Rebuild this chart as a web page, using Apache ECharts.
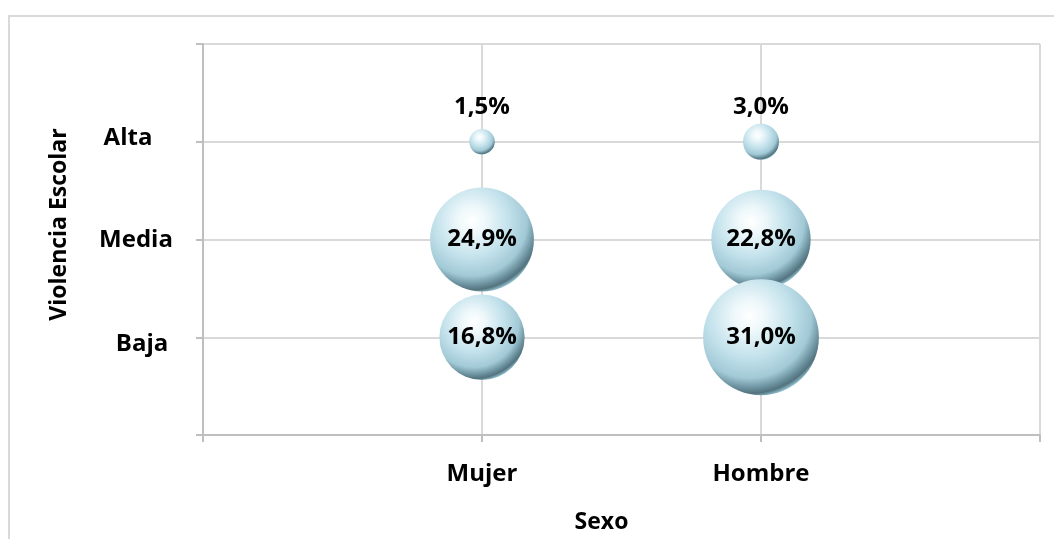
<!DOCTYPE html>
<html>
<head>
<meta charset="utf-8">
<script src="https://cdn.jsdelivr.net/npm/echarts@6/dist/echarts.min.js"></script>
<style>
  html, body { margin: 0; padding: 0; background: #ffffff; }
  #chart { width: 1054px; height: 539px; }
</style>
</head>
<body>
<div id="chart"></div>
<script>
// ---- Data ----
const sexCategories = ['Mujer', 'Hombre'];          // x positions 1, 2
const levelCategories = ['Baja', 'Media', 'Alta'];  // y positions 1, 2, 3
const mujerValues = [16.8, 24.9, 1.5];   // Baja, Media, Alta
const hombreValues = [31.0, 22.8, 3.0];  // Baja, Media, Alta
const xAxisTitle = 'Sexo';
const yAxisTitle = 'Violencia Escolar';

// ---- Build bubble data (draw Alta first, Baja last) ----
const valuesBySex = [mujerValues, hombreValues];
const bubbleData = [];
for (let li = levelCategories.length - 1; li >= 0; li--) {
  for (let si = 0; si < sexCategories.length; si++) {
    const v = valuesBySex[si][li];
    const item = { value: [si + 1, li + 1, v] };
    if (v < 5) {
      item.label = { offset: [0, -35] };
    }
    bubbleData.push(item);
  }
}

const fontFamily = '"Open Sans", "Noto Sans", sans-serif';
const textColor = '#000';
const labelRich = {
  Alta:  { fontSize: 24, fontWeight: 'bold', color: textColor, fontFamily, padding: [0, 16, 8, 0] },
  Media: { fontSize: 24, fontWeight: 'bold', color: textColor, fontFamily, padding: [2, 0, 0, 0] },
  Baja:  { fontSize: 24, fontWeight: 'bold', color: textColor, fontFamily, padding: [14, 0, 0, 12] }
};

const sphere = {
  type: 'radial', x: 0.4, y: 0.32, r: 0.74,
  colorStops: [
    { offset: 0, color: '#ffffff' },
    { offset: 0.18, color: '#eef8fb' },
    { offset: 0.5, color: '#c0e0ea' },
    { offset: 0.72, color: '#a2c9d6' },
    { offset: 0.84, color: '#6a909d' },
    { offset: 0.9, color: '#53737e' },
    { offset: 0.96, color: '#9fd2e0' },
    { offset: 1, color: '#cdf1fa' }
  ]
};

const chart = echarts.init(document.getElementById('chart'));
chart.setOption({
  backgroundColor: '#ffffff',
  animation: false,
  graphic: [{
    type: 'rect', silent: true, z: -10,
    shape: { x: 9, y: 16, width: 1200, height: 700 },
    style: { fill: 'none', stroke: '#d9d9d9', lineWidth: 2 }
  }],
  grid: { left: 203, top: 44, right: 14, bottom: 100 },
  xAxis: {
    type: 'value', min: 0, max: 3, interval: 1,
    name: xAxisTitle, nameLocation: 'middle', nameGap: 76,
    nameTextStyle: { fontSize: 23, fontWeight: 'bold', color: textColor, fontFamily, padding: [0, 40, 0, 0] },
    axisLine: { show: true, onZero: false, lineStyle: { color: '#bfbfbf', width: 2 } },
    axisTick: { show: true, length: 7, lineStyle: { color: '#bfbfbf', width: 2 } },
    axisLabel: {
      margin: 27, fontSize: 24, fontWeight: 'bold', color: textColor, fontFamily,
      formatter: v => sexCategories[v - 1] || ''
    },
    splitLine: { show: true, lineStyle: { color: '#d9d9d9', width: 2 } }
  },
  yAxis: {
    type: 'value', min: 0, max: 4, interval: 1,
    name: yAxisTitle, nameLocation: 'middle', nameGap: 132, nameRotate: 90,
    nameTextStyle: { fontSize: 23, fontWeight: 'bold', color: textColor, fontFamily, padding: [0, 0, 0, 30] },
    axisLine: { show: true, onZero: false, lineStyle: { color: '#bfbfbf', width: 2 } },
    axisTick: { show: true, length: 7, lineStyle: { color: '#bfbfbf', width: 2 } },
    axisLabel: {
      margin: 67, align: 'center',
      formatter: v => {
        const name = levelCategories[v - 1];
        return name ? '{' + name + '|' + name + '}' : '';
      },
      rich: labelRich
    },
    splitLine: { show: true, lineStyle: { color: '#d9d9d9', width: 2 } }
  },
  series: [{
    type: 'scatter',
    data: bubbleData,
    symbolSize: d => 20.8 * Math.sqrt(d[2]),
    itemStyle: { color: sphere, opacity: 1 },
    label: {
      show: true, position: 'inside',
      fontSize: 24, fontWeight: 'bold', color: textColor, fontFamily,
      formatter: p => p.value[2].toFixed(1).replace('.', ',') + '%'
    }
  }]
});
</script>
</body>
</html>
